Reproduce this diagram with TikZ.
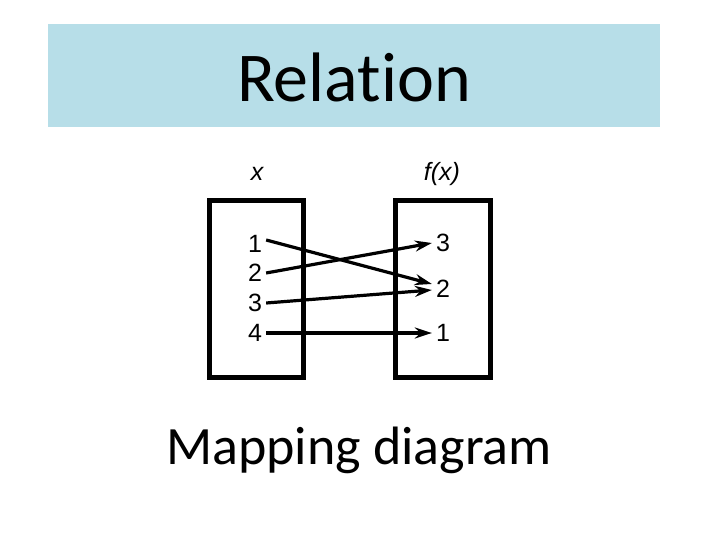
\documentclass[tikz,border=0pt]{standalone}
\usepackage{fontspec}
\setmainfont[Ligatures=NoCommon]{Carlito}
\newfontfamily\mapfont{Liberation Sans}
\usetikzlibrary{arrows.meta}
\definecolor{banner}{RGB}{183,222,232}
\begin{document}
\begin{tikzpicture}[x=1pt,y=-1pt]

		% Estilos
		\tikzset{
			conjunto/.style={
				draw,
				line width=5pt
			},
			valor/.style={
				font=\mapfont\fontsize{25}{28}\selectfont,
				inner sep=4pt
			},
			flecha/.style={
				line width=3.2pt,
				-{Stealth[length=17pt,width=11pt]}
			}
		}

		\useasboundingbox (0,0) rectangle (720,540);

		% Titulo
		\fill[banner] (48,24) rectangle (660,127);
		\node (titulo) at (354,77) {\fontsize{70}{84}\selectfont Relation};

		% Conjuntos
		\draw[conjunto] (209,201) rectangle (303,377);
		\draw[conjunto] (395,201) rectangle (490,377);
		\node[valor] (X) at (257,174) {\itshape x};
		\node[valor] (FX) at (442,174) {\itshape f(x)};

		% Dominio
		\node[valor] (a1) at (255,244) {1};
		\node[valor] (a2) at (255,273) {2};
		\node[valor] (a3) at (255,303) {3};
		\node[valor] (a4) at (255,333) {4};

		% Rango
		\node[valor] (b3) at (443,243) {3};
		\node[valor] (b2) at (443,289) {2};
		\node[valor] (b1) at (443,333) {1};

		% Flechas
		\draw[flecha] ([yshift=4pt]a1.east) -- ([yshift=5pt]b2.west);
		\draw[flecha] (a2.east) -- (b3.west);
		\draw[flecha] (a3.east) -- ([yshift=-1pt]b2.west);
		\draw[flecha] (a4.east) -- (b1.west);

		% Pie
		\node (pie) at (359,450) {\fontsize{54}{64}\selectfont Mapping diagram};

	\end{tikzpicture}
\end{document}
